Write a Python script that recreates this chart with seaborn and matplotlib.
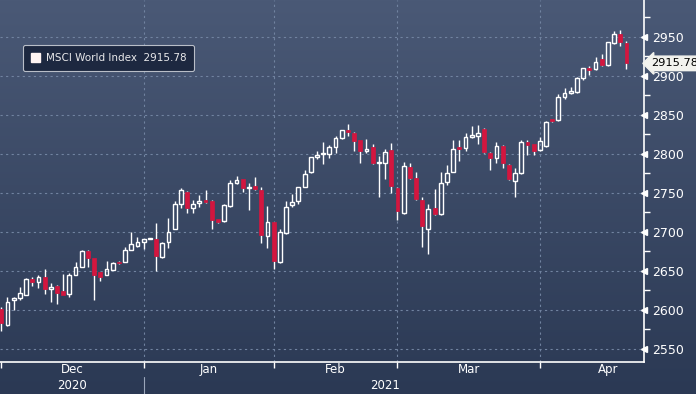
import numpy as np
import pandas as pd
import seaborn as sns
import matplotlib.pyplot as plt
from matplotlib.patches import Patch
from matplotlib.colors import LinearSegmentedColormap
from matplotlib.transforms import blended_transform_factory

# daily candles, MSCI World Index, 30 Nov 2020 - 20 Apr 2021 (weekdays)
dates = pd.bdate_range("2020-11-30", "2021-04-20")

opens = [2601, 2580, 2612, 2615, 2619, 2639, 2635, 2642, 2627, 2630,
         2624, 2620, 2645, 2655, 2675, 2666, 2648, 2644, 2651, 2661,
         2661, 2677, 2682, 2687, 2690.8, 2691, 2668, 2687, 2704, 2736,
         2751, 2731, 2737, 2741, 2740, 2716, 2714, 2733, 2762, 2767,
         2756, 2759, 2754, 2694, 2712, 2661, 2698, 2734, 2739, 2758,
         2776, 2796, 2800, 2800, 2808, 2820, 2830, 2827, 2817, 2804,
         2808, 2788, 2788, 2805, 2756, 2724, 2783, 2769, 2741, 2703,
         2730, 2723, 2764, 2777, 2808, 2807, 2822, 2823, 2832, 2801,
         2794, 2810, 2786, 2765, 2775, 2815, 2812, 2805, 2810, 2844,
         2843, 2873, 2878, 2879, 2897, 2910, 2908, 2921, 2914, 2942,
         2953, 2942]
highs = [2603, 2617, 2617, 2629, 2641, 2642, 2645, 2652, 2634, 2632,
         2646, 2647, 2661, 2676, 2677, 2667, 2649, 2663, 2661, 2662,
         2680, 2700, 2693, 2691, 2691.5, 2711, 2687, 2718, 2740, 2756,
         2752, 2741, 2747, 2753, 2741, 2717, 2736, 2766, 2772, 2768,
         2763, 2770, 2757, 2733, 2713, 2703, 2740, 2748, 2758, 2779,
         2796, 2804, 2815, 2811, 2823, 2831, 2838, 2828, 2818, 2819,
         2812, 2797, 2806, 2814, 2757, 2789, 2788, 2776, 2744, 2735,
         2755, 2776, 2786, 2817, 2817, 2826, 2835, 2837, 2833, 2802,
         2815, 2811, 2787, 2782, 2817, 2818, 2813, 2822, 2842, 2845,
         2876, 2884, 2885, 2898, 2910, 2913, 2924, 2928, 2943, 2957,
         2959, 2944]
lows = [2573, 2579, 2600, 2613, 2619, 2631, 2628, 2620, 2610, 2608,
        2619, 2617, 2645, 2655, 2655, 2613, 2637, 2644, 2651, 2659,
        2661, 2677, 2680, 2678, 2690.5, 2650, 2667, 2679, 2703, 2731,
        2724, 2724, 2732, 2737, 2703, 2711, 2713, 2732, 2761, 2751,
        2728, 2753, 2686, 2679, 2652, 2660, 2697, 2732, 2736, 2757,
        2775, 2793, 2787, 2795, 2801, 2819, 2823, 2803, 2788, 2801,
        2787, 2744, 2768, 2750, 2715, 2723, 2768, 2741, 2680, 2671,
        2722, 2722, 2760, 2776, 2791, 2803, 2820, 2812, 2801, 2779,
        2788, 2782, 2766, 2745, 2774, 2799, 2798, 2803, 2809, 2841,
        2842, 2870, 2876, 2878, 2894, 2901, 2907, 2913, 2913, 2941,
        2938, 2908]
closes = [2583, 2610, 2615, 2621, 2640, 2636, 2642, 2627, 2629, 2622,
          2619, 2645, 2655, 2675, 2666, 2645, 2642, 2652, 2660, 2660,
          2677, 2684, 2687, 2691, 2691.2, 2669, 2685, 2700, 2735, 2754,
          2731, 2735, 2740, 2738, 2715, 2713, 2734, 2762, 2766, 2756,
          2758, 2755, 2696, 2712, 2662, 2700, 2732, 2738, 2758, 2774,
          2796, 2799, 2801, 2808, 2820, 2830, 2828, 2816, 2803, 2806,
          2788, 2790, 2802, 2759, 2726, 2784, 2769, 2742, 2707, 2729,
          2723, 2762, 2775, 2806, 2806, 2821, 2824, 2826, 2802, 2795,
          2810, 2788, 2767, 2775, 2815, 2811, 2804, 2816, 2841, 2842,
          2873, 2878, 2881, 2897, 2910, 2907, 2918, 2914, 2943, 2954,
          2943, 2915.78]

y_ticks = [2550, 2600, 2650, 2700, 2750, 2800, 2850, 2900, 2950]
months = ["Dec", "Jan", "Feb", "Mar", "Apr"]
years = ["2020", "2021"]
last_label = "2915.78"
series_name = "MSCI World Index  2915.78"

df = pd.DataFrame({"date": dates, "open": opens, "high": highs,
                   "low": lows, "close": closes})
df["x"] = np.arange(len(df))
df["up"] = df["close"] >= df["open"]
df["top"] = df[["open", "close"]].max(axis=1)
df["bot"] = df[["open", "close"]].min(axis=1)

sns.set_style("dark")
plt.rcParams["font.family"] = ["Liberation Sans Narrow", "DejaVu Sans"]

fig = plt.figure(figsize=(6.96, 3.94), dpi=100)

# background gradient over the whole figure
bg = fig.add_axes([0, 0, 1, 1], zorder=0)
grad = np.linspace(0, 1, 256).reshape(-1, 1)
cmap = LinearSegmentedColormap.from_list("bg", ["#4a5976", "#2b3954"])
bg.imshow(grad, aspect="auto", cmap=cmap, extent=[0, 1, 0, 1])
bg.axis("off")

ax = fig.add_axes([0, 0.081, 0.925, 0.919], zorder=1)
ax.set_facecolor("none")

# grid
for v in y_ticks:
    ax.axhline(v, color="#7183a0", lw=0.8, ls=(0, (2, 3)), zorder=1)

# month boundaries = last weekday of each month
bounds = [0] + [int(df.index[df["date"].dt.month == m][-1]) for m in [12, 1, 2, 3]]
for b in bounds[1:]:
    ax.axvline(b, color="#7183a0", lw=0.8, ls=(0, (2, 3)), zorder=1)

# wicks
ax.vlines(df["x"], df["top"], df["high"], color="white", lw=1, zorder=2)
ax.vlines(df["x"], df["low"], df["bot"], color="white", lw=1, zorder=2)

# bodies
w = 0.62
up = df[df["up"]]
dn = df[~df["up"]]
ax.bar(up["x"], np.maximum(up["top"] - up["bot"], 0.8), bottom=up["bot"], width=w,
       facecolor="none", edgecolor="white", lw=1, zorder=3)
ax.bar(dn["x"], np.maximum(dn["top"] - dn["bot"], 0.8), bottom=dn["bot"], width=w,
       facecolor="#d3163f", edgecolor="#d3163f", lw=0.5, zorder=3)

ax.set_xlim(-0.21, 103.8)
ax.set_ylim(2533, 2997)

# spines
for s in ["top", "left"]:
    ax.spines[s].set_visible(False)
for s in ["bottom", "right"]:
    ax.spines[s].set_visible(True)
    ax.spines[s].set_color("white")
    ax.spines[s].set_linewidth(1.2)

# y axis on right
ax.yaxis.tick_right()
ax.set_yticks(y_ticks)
ax.set_yticklabels([str(v) for v in y_ticks], color="white", fontsize=9)
ax.set_yticks([v + 25 for v in y_ticks], minor=True)
ax.tick_params(axis="y", which="major", length=0, pad=6)
ax.tick_params(axis="y", which="minor", length=4, width=1, color="white", right=True)
ax.plot([1.0] * len(y_ticks), y_ticks, marker="<", ms=5, color="white", ls="none",
        transform=blended_transform_factory(ax.transAxes, ax.transData),
        clip_on=False, zorder=5)
ax.set_ylabel("")

# x axis: ticks at month boundaries, labels at month centers
def pos(d):
    return np.busday_count(np.datetime64("2020-11-30"), np.datetime64(d))

centers = []
for start, end in [("2020-12-01", "2020-12-31"), ("2021-01-01", "2021-01-29"),
                   ("2021-02-01", "2021-02-26"), ("2021-03-01", "2021-03-31"),
                   ("2021-04-01", "2021-04-30")]:
    centers.append((pos(start) - 1 + pos(end)) / 2)
ax.set_xticks(bounds)
ax.set_xticklabels([])
ax.tick_params(axis="x", which="major", length=4, width=1, color="white", bottom=True)
ax.set_xticks(centers, minor=True)
ax.set_xticklabels(months, minor=True, color="white", fontsize=8.5)
ax.tick_params(axis="x", which="minor", length=0, pad=1)
ax.set_xlabel("")

tr = blended_transform_factory(ax.transData, ax.transAxes)
ax.text(centers[0], -0.066, years[0], transform=tr, ha="center", va="center",
        color="white", fontsize=8.5)
ax.text((bounds[1] + 101) / 2, -0.066, years[1], transform=tr, ha="center", va="center",
        color="white", fontsize=8.5)
ax.plot([bounds[1], bounds[1]], [-0.042, -0.09], transform=tr, color="#9aa6ba",
        lw=0.8, clip_on=False)

# last price tag
ax.annotate(last_label, xy=(1.0, closes[-1]),
            xycoords=blended_transform_factory(ax.transAxes, ax.transData),
            xytext=(5, 0), textcoords="offset points", ha="left", va="center",
            fontsize=8.2, color="black", annotation_clip=False,
            bbox=dict(boxstyle="larrow,pad=0.2", fc="#f2f2ee", ec="#f2f2ee"))

# legend
handle = Patch(facecolor="#fff4f2", edgecolor="#fff4f2")
leg = ax.legend([handle], [series_name], loc="upper left",
                bbox_to_anchor=(0.028, 0.89), fontsize=7.5, handlelength=0.9,
                handleheight=0.9, handletextpad=0.5, borderpad=0.75, fancybox=True,
                framealpha=1, facecolor="#1d2840", edgecolor="#b9bec8")
leg.get_frame().set_linewidth(0.8)
for t in leg.get_texts():
    t.set_color("#e8e8ea")

fig.savefig("out.png", dpi=100)
